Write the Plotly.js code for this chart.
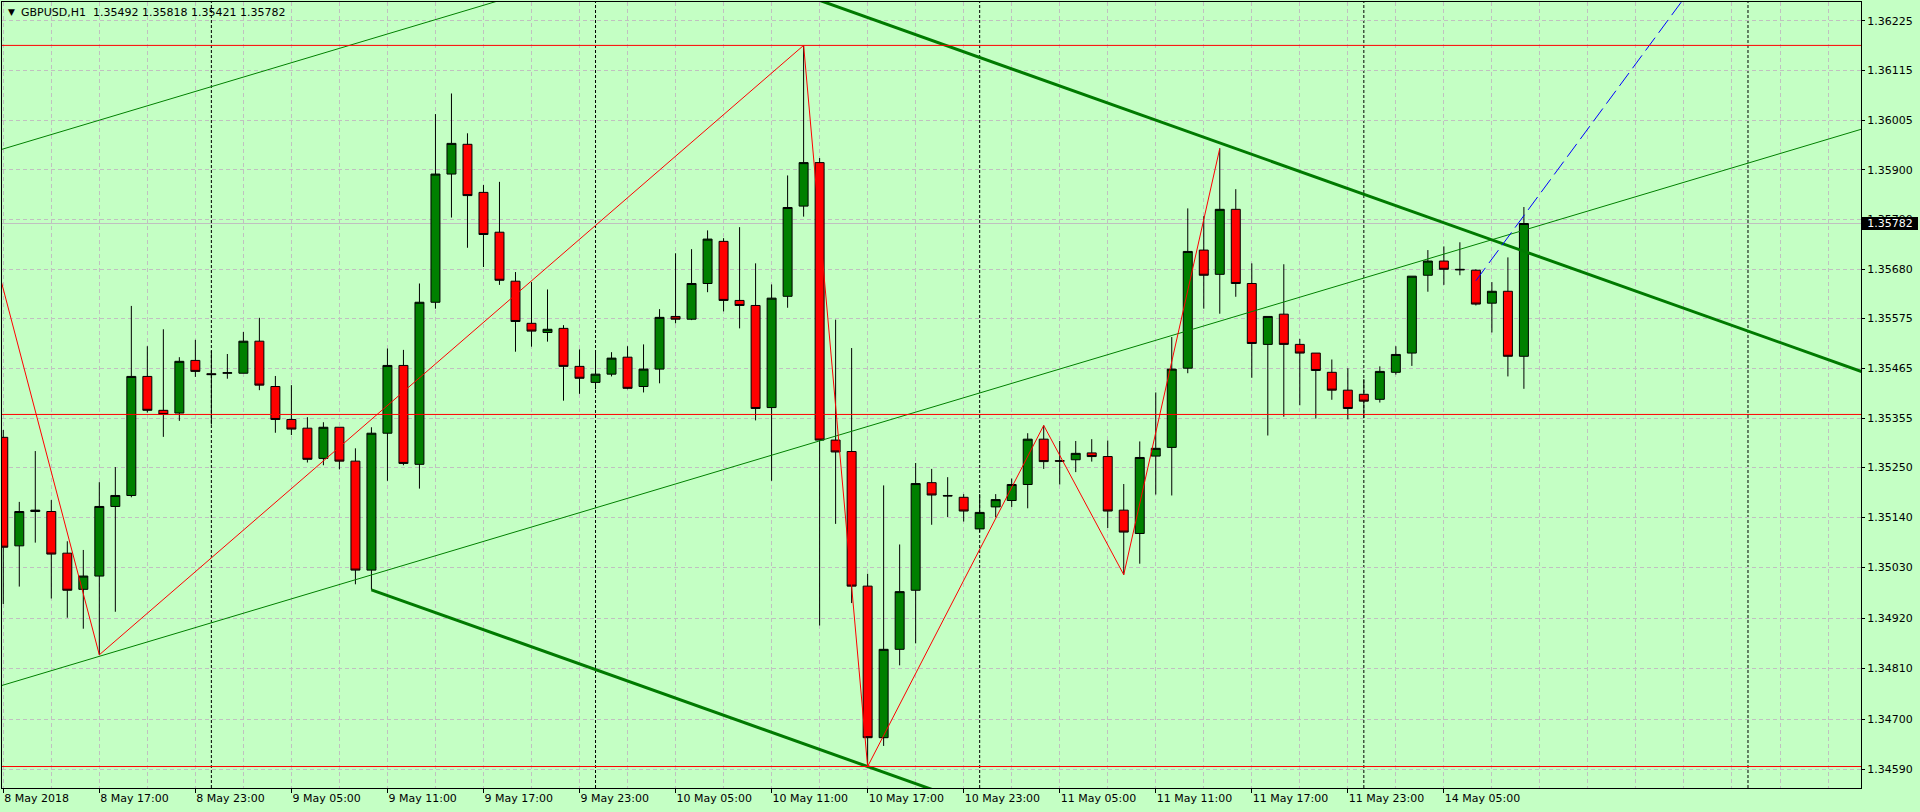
<!DOCTYPE html>
<html>
<head>
<meta charset="utf-8">
<script src="https://cdn.plot.ly/plotly-3.0.1.min.js"></script>
<style>html,body{margin:0;padding:0;background:#c4ffc4;}#chart{width:1920px;height:812px;}</style>
</head>
<body>
<div id="chart"></div>
<script>
// ---- GBPUSD H1 candles (bar 0 = 8 May 2018 11:00) ----
const open  = [1.35315,1.35078,1.35153,1.35153,1.35062,1.34983,1.35012,1.35164,1.35188,1.35448,
               1.35374,1.35368,1.35483,1.35454,1.35455,1.35455,1.35525,1.35426,1.35354,1.35335,
               1.35269,1.35337,1.35263,1.35025,1.35324,1.35472,1.35256,1.35610,1.35890,1.35955,
               1.35850,1.35763,1.35656,1.35564,1.35544,1.35553,1.35470,1.35435,1.35453,1.35490,
               1.35426,1.35464,1.35579,1.35573,1.35651,1.35743,1.35614,1.35603,1.35380,1.35623,
               1.35820,1.35915,1.35309,1.35284,1.34990,1.34659,1.34852,1.34981,1.35216,1.35188,
               1.35184,1.35115,1.35163,1.35177,1.35212,1.35311,1.35264,1.35266,1.35281,1.35273,
               1.35156,1.35105,1.35274,1.35293,1.35466,1.35724,1.35671,1.35813,1.35651,1.35518,
               1.35584,1.35518,1.35499,1.35457,1.35418,1.35409,1.35398,1.35457,1.35499,1.35669,
               1.35700,1.35682,1.35680,1.35608,1.35634,1.35492];
const high  = [1.35331,1.35174,1.35285,1.35178,1.35088,1.35069,1.35217,1.35250,1.35602,1.35514,
               1.35551,1.35490,1.35528,1.35504,1.35497,1.35545,1.35576,1.35449,1.35429,1.35359,
               1.35348,1.35337,1.35291,1.35337,1.35509,1.35506,1.35651,1.36021,1.36066,1.35979,
               1.35866,1.35873,1.35676,1.35654,1.35638,1.35560,1.35507,1.35505,1.35501,1.35514,
               1.35518,1.35595,1.35717,1.35726,1.35767,1.35750,1.35774,1.35695,1.35649,1.35887,
               1.36171,1.35925,1.35572,1.35510,1.35017,1.35210,1.35081,1.35259,1.35246,1.35228,
               1.35191,1.35191,1.35191,1.35225,1.35324,1.35341,1.35307,1.35307,1.35311,1.35308,
               1.35213,1.35306,1.35413,1.35534,1.35815,1.35798,1.35946,1.35857,1.35695,1.35579,
               1.35693,1.35530,1.35499,1.35485,1.35466,1.35442,1.35470,1.35514,1.35667,1.35724,
               1.35732,1.35741,1.35682,1.35654,1.35708,1.35818];
const low   = [1.34951,1.34989,1.35085,1.34963,1.34921,1.34897,1.34840,1.34934,1.35184,1.35369,
               1.35316,1.35351,1.35447,1.35343,1.35443,1.35455,1.35418,1.35325,1.35320,1.35260,
               1.35254,1.35245,1.34994,1.34982,1.35220,1.35254,1.35203,1.35596,1.35795,1.35729,
               1.35687,1.35648,1.35502,1.35513,1.35524,1.35395,1.35410,1.35420,1.35448,1.35420,
               1.35413,1.35433,1.35564,1.35571,1.35632,1.35590,1.35553,1.35352,1.35220,1.35598,
               1.35797,1.34904,1.35126,1.34953,1.34596,1.34641,1.34817,1.34865,1.35124,1.35141,
               1.35131,1.35108,1.35140,1.35163,1.35160,1.35246,1.35212,1.35239,1.35262,1.35117,
               1.35015,1.35039,1.35190,1.35188,1.35455,1.35596,1.35585,1.35622,1.35445,1.35319,
               1.35360,1.35385,1.35356,1.35397,1.35354,1.35357,1.35391,1.35452,1.35471,1.35633,
               1.35648,1.35669,1.35603,1.35544,1.35448,1.35421];
const close = [1.35075,1.35153,1.35156,1.35060,1.34981,1.35012,1.35164,1.35188,1.35448,1.35374,
               1.35365,1.35481,1.35459,1.35452,1.35456,1.35525,1.35429,1.35354,1.35333,1.35267,
               1.35337,1.35263,1.35025,1.35324,1.35472,1.35258,1.35610,1.35890,1.35957,1.35843,
               1.35758,1.35658,1.35568,1.35547,1.35551,1.35470,1.35444,1.35453,1.35488,1.35422,
               1.35464,1.35577,1.35573,1.35651,1.35748,1.35614,1.35603,1.35378,1.35619,1.35817,
               1.35915,1.35309,1.35283,1.34990,1.34659,1.34852,1.34978,1.35214,1.35189,1.35187,
               1.35154,1.35151,1.35179,1.35212,1.35311,1.35262,1.35263,1.35280,1.35273,1.35154,
               1.35108,1.35271,1.35291,1.35464,1.35721,1.35669,1.35813,1.35651,1.35520,1.35579,
               1.35518,1.35499,1.35461,1.35418,1.35378,1.35394,1.35459,1.35496,1.35667,1.35700,
               1.35682,1.35681,1.35606,1.35634,1.35492,1.35782];

// ---- time axis labels (bar index of each label) ----
const xTickBars   = [0,6,12,18,24,30,36,42,48,54,60,66,72,78,84,90];
const xTickLabels = ["8 May 2018","8 May 17:00","8 May 23:00","9 May 05:00","9 May 11:00","9 May 17:00",
                     "9 May 23:00","10 May 05:00","10 May 11:00","10 May 17:00","10 May 23:00",
                     "11 May 05:00","11 May 11:00","11 May 17:00","11 May 23:00","14 May 05:00"];
// day separators (bar index of 00:00)
const separatorBars = [13,37,61,85,109];

// ---- price axis labels ----
const yTickVals = [1.36225,1.36116,1.36007,1.35899,1.35791,1.35682,1.35575,1.35466,
                   1.35357,1.35250,1.35140,1.35031,1.34920,1.34811,1.34699,1.34590];
const yTickText = ["1.36225","1.36115","1.36005","1.35900","1.35790","1.35680","1.35575","1.35465",
                   "1.35355","1.35250","1.35140","1.35030","1.34920","1.34810","1.34700","1.34590"];

// ---- chart objects ----
const hLevels = [1.36171, 1.35365, 1.34596];
const lastPrice = 1.35782;
const symbolText = "GBPUSD,H1\u00a0\u00a01.35492 1.35818 1.35421 1.35782";

const zigzagBars   = [-1, 6, 50, 54, 65, 70, 76];
const zigzagPrices = [1.35772, 1.34840, 1.36171, 1.34596, 1.35341, 1.35015, 1.35946];

const thinLowBars    = [-2, 118];
const thinLowPrices  = [1.34753, 1.36008];
const thinHighBars   = [-2, 118];
const thinHighPrices = [1.35924, 1.37179];

const thickLowBars    = [23, 118];
const thickLowPrices  = [1.34982, 1.33799];
const thickHighBars   = [23, 118];
const thickHighPrices = [1.36618, 1.35435];

const projBars   = [92, 106];
const projPrices = [1.35657, 1.36321];

const bars = open.map((_, i) => i);

const BG = '#c4ffc4';
const GRID = '#c0c0c0';
const FONT = 'DejaVu Sans';

const traces = [
  {
    type: 'candlestick', x: bars, open: open, high: high, low: low, close: close,
    increasing: {line: {color: '#000000', width: 1}, fillcolor: '#008000'},
    decreasing: {line: {color: '#000000', width: 1}, fillcolor: '#ff0000'},
    whiskerwidth: 0, hoverinfo: 'skip', showlegend: false
  },
  {type: 'scatter', mode: 'lines', x: thinLowBars, y: thinLowPrices, line: {color: '#008000', width: 1}, hoverinfo: 'skip'},
  {type: 'scatter', mode: 'lines', x: thinHighBars, y: thinHighPrices, line: {color: '#008000', width: 1}, hoverinfo: 'skip'},
  {type: 'scatter', mode: 'lines', x: thickLowBars, y: thickLowPrices, line: {color: '#007a00', width: 3}, hoverinfo: 'skip'},
  {type: 'scatter', mode: 'lines', x: thickHighBars, y: thickHighPrices, line: {color: '#007a00', width: 3}, hoverinfo: 'skip'},
  {type: 'scatter', mode: 'lines', x: zigzagBars, y: zigzagPrices, line: {color: '#ff0000', width: 1}, hoverinfo: 'skip'},
  {type: 'scatter', mode: 'lines', x: projBars, y: projPrices, line: {color: '#0000ff', width: 1, dash: '16px,6px'}, hoverinfo: 'skip'}
];

// layout geometry (pixels)
const W = 1920, H = 812, ML = 2, MR = 59, MT = 2, MB = 24;
const PW = W - ML - MR, PH = H - MT - MB;
const px = v => (v - ML) / PW;
const py = v => (H - MB - v) / PH;

const shapes = [];
separatorBars.forEach(b => shapes.push({
  type: 'line', xref: 'x', yref: 'paper', x0: b, x1: b, y0: 0, y1: 1, layer: 'below',
  line: {color: '#000000', width: 1, dash: '3px,2px'}
}));
shapes.push({type: 'line', xref: 'paper', yref: 'y', x0: 0, x1: 1, y0: lastPrice, y1: lastPrice, layer: 'below',
  line: {color: '#c0c0c0', width: 1}});
hLevels.forEach(v => shapes.push({
  type: 'line', xref: 'paper', yref: 'y', x0: 0, x1: 1, y0: v, y1: v, layer: 'above',
  line: {color: '#ff0000', width: 1}
}));

const annotations = [
  {xref: 'paper', yref: 'paper', x: px(11), y: py(12), xanchor: 'center', yanchor: 'middle',
   text: '\u25BC', showarrow: false, font: {family: FONT, size: 9, color: '#000'}},
  {xref: 'paper', yref: 'paper', x: px(18.5), y: py(12.7), xanchor: 'left', yanchor: 'middle',
   text: symbolText, showarrow: false, font: {family: FONT, size: 11, color: '#000'}},
  {xref: 'paper', yref: 'y', x: 1, xshift: 1, y: lastPrice, xanchor: 'left', yanchor: 'middle',
   text: lastPrice.toFixed(5), showarrow: false, bgcolor: '#000000', width: 54, height: 11,
   borderpad: 1, borderwidth: 0, font: {family: FONT, size: 11, color: '#ffffff'}}
];

const layout = {
  width: W, height: H,
  margin: {l: ML, r: MR, t: MT, b: MB, pad: 0},
  paper_bgcolor: BG, plot_bgcolor: BG,
  showlegend: false, hovermode: false, dragmode: false,
  font: {family: FONT, size: 11, color: '#000'},
  boxmode: 'overlay', boxgap: 0.44, boxgroupgap: 0,
  xaxis: {
    type: 'linear', range: [-0.08, 116.06], fixedrange: true,
    rangeslider: {visible: false},
    tickmode: 'array', tickvals: xTickBars, ticktext: xTickLabels,
    ticks: 'outside', ticklen: 4, tickcolor: '#000', tickwidth: 1,
    ticklabelposition: 'outside right',
    tickfont: {family: FONT, size: 11, color: '#000'},
    showgrid: true, gridcolor: GRID, griddash: '4px,3px', gridwidth: 1,
    minor: {tickmode: 'linear', tick0: 0, dtick: 3, showgrid: true, gridcolor: GRID, griddash: '4px,3px', ticks: ''},
    showline: true, linecolor: '#000', linewidth: 1, mirror: true, zeroline: false
  },
  yaxis: {
    type: 'linear', range: [1.345491, 1.362658], fixedrange: true, side: 'right',
    tickmode: 'array', tickvals: yTickVals, ticktext: yTickText,
    ticks: 'outside', ticklen: 3, tickcolor: '#000', tickwidth: 1,
    tickfont: {family: FONT, size: 11, color: '#000'},
    showgrid: true, gridcolor: GRID, griddash: '4px,3px', gridwidth: 1,
    showline: true, linecolor: '#000', linewidth: 1, mirror: true, zeroline: false
  },
  shapes: shapes,
  annotations: annotations
};

Plotly.newPlot('chart', traces, layout, {staticPlot: true, displayModeBar: false});
</script>
</body>
</html>
